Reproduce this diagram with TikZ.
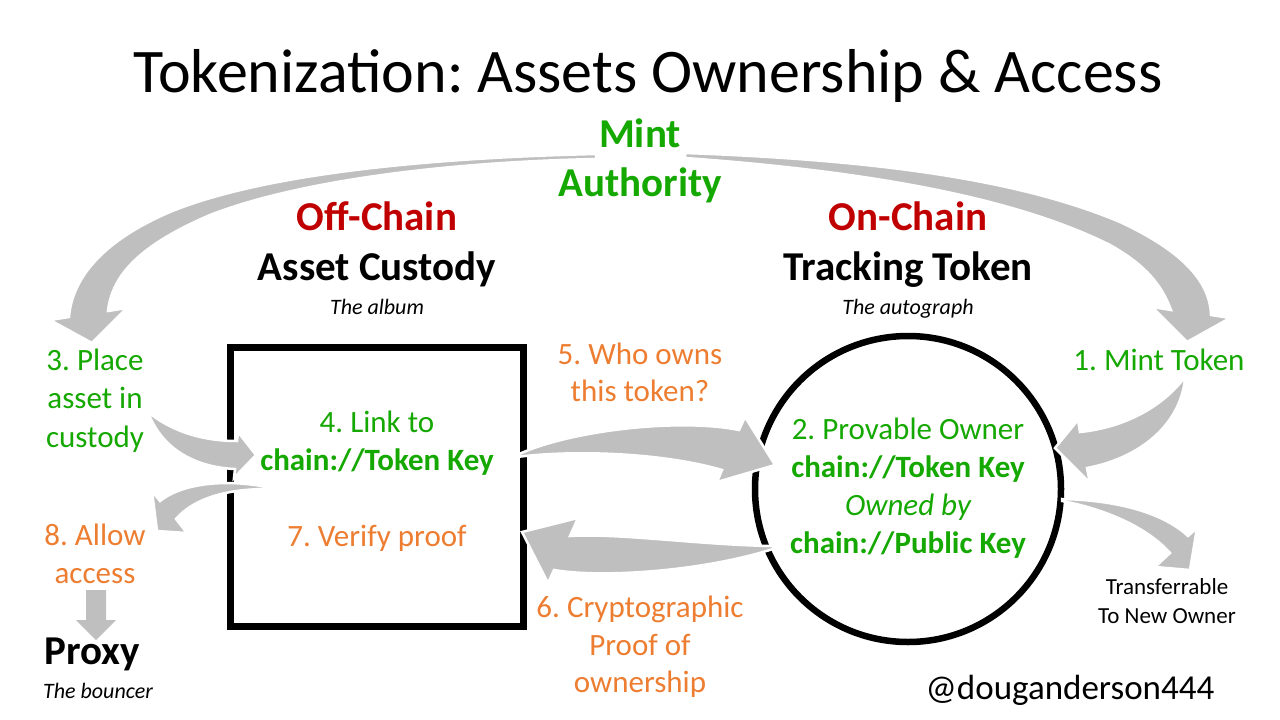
\documentclass[tikz,border=0pt]{standalone}
\usepackage{fontspec}
\setmainfont{Carlito}
\frenchspacing
\definecolor{tgreen}{RGB}{20,168,0}
\definecolor{tred}{RGB}{192,0,0}
\definecolor{torange}{RGB}{237,125,49}
\definecolor{agray}{RGB}{191,191,191}
\tikzset{
  txt/.style={inner sep=0pt, anchor=base},
  bigb/.style={txt, font=\fontsize{41}{41}\selectfont\bfseries},
  med/.style={txt, font=\fontsize{31}{31}\selectfont},
  medb/.style={txt, font=\fontsize{31}{31}\selectfont\bfseries},
  medi/.style={txt, font=\fontsize{31}{31}\selectfont\itshape},
  subi/.style={txt, font=\fontsize{22}{22}\selectfont\itshape},
  small/.style={txt, font=\fontsize{23}{23}\selectfont},
  garrow/.style={fill=agray, draw=white, line width=2.5pt, line join=miter},
}
\begin{document}
\begin{tikzpicture}[x=1pt,y=-1pt]
\useasboundingbox (0,0) rectangle (1280,720);
\fill[white] (0,0) rectangle (1280,720);

% title
\node[txt, font=\fontsize{62}{62}\selectfont] (title) at (648,92) {Tokenization: Assets Ownership \& Access};

% containers
\node[draw, line width=7pt, minimum width=293pt, minimum height=279pt, inner sep=0pt] (box) at (376.5,486.5) {};
\node[draw, circle, line width=6.5pt, minimum size=306pt, inner sep=0pt] (tok) at (908,489) {};

% big arrow: mint -> place asset
\path[garrow] (596,154) .. controls (420,158) and (260,175) .. (170,212)
  .. controls (100,242) and (72,280) .. (69,317) -- (50,320) -- (92,343) -- (127,308) -- (108,311)
  .. controls (112,275) and (140,245) .. (210,215)
  .. controls (300,180) and (450,162) .. (596,159) -- cycle;
% big arrow: mint -> mint token
\path[garrow] (685,153) .. controls (880,160) and (1020,180) .. (1120,222)
  .. controls (1180,250) and (1210,280) .. (1211,315) -- (1230,318) -- (1187,342) -- (1152,307) -- (1171,310)
  .. controls (1160,280) and (1140,262) .. (1110,245)
  .. controls (1020,200) and (880,172) .. (685,158) -- cycle;
% place asset -> box
\path[garrow] (148,412) .. controls (170,430) and (200,441) .. (237,441) -- (238,432) -- (256,455) -- (234,478) -- (235,469)
  .. controls (190,467) and (160,445) .. (148,412) -- cycle;
% box -> allow access
\path[garrow] (267,487) .. controls (220,478) and (180,485) .. (160,501) -- (152,491) -- (157,531) -- (187,533) -- (176,519)
  .. controls (195,497) and (230,489) .. (267,489) -- cycle;
% box -> circle (5)
\path[garrow] (517,455) .. controls (570,430) and (680,418) .. (739,430) -- (745,417) -- (775,465) -- (717,482) -- (722,470)
  .. controls (660,452) and (570,450) .. (517,457) -- cycle;
% circle -> box (6)
\path[garrow] (773,546) .. controls (700,545) and (620,533) .. (570,536) -- (578,518) -- (522,532) -- (548,583) -- (554,570)
  .. controls (600,578) and (700,572) .. (773,549) -- cycle;
% mint token -> circle
\path[garrow] (1185,377) .. controls (1160,410) and (1120,428) .. (1080,432) -- (1078,420) -- (1055,448) -- (1090,483) -- (1087,468)
  .. controls (1140,458) and (1180,425) .. (1185,379) -- cycle;
% circle -> transferrable
\path[garrow] (1062,499) .. controls (1110,500) and (1160,510) .. (1188,536) -- (1197,528) -- (1190,570) -- (1155,567) -- (1170,553)
  .. controls (1145,525) and (1100,508) .. (1062,501) -- cycle;
% allow access -> proxy
\path[fill=agray] (86,590) -- (106,590) -- (106,620) -- (116,620) -- (96,640) -- (76,620) -- (86,620) -- cycle;

% headings
\node[bigb, tgreen] (mint1) at (640,147) {Mint};
\node[bigb, tgreen] (mint2) at (640,196) {Authority};
\node[bigb, tred] (off) at (377,230) {Off-Chain};
\node[bigb] (cust) at (377,280) {Asset Custody};
\node[subi] (album) at (377,314) {The album};
\node[bigb, tred] (on) at (908,230) {On-Chain};
\node[bigb] (track) at (908,280) {Tracking Token};
\node[subi] (autog) at (908,314) {The autograph};

% left side
\node[med, tgreen] (p1) at (95,370) {3. Place};
\node[med, tgreen] (p2) at (95,408) {asset in};
\node[med, tgreen] (p3) at (95,447) {custody};
\node[med, torange] (a1) at (95,545) {8. Allow};
\node[med, torange] (a2) at (95,583) {access};
\node[bigb] (proxy) at (92,664) {Proxy};
\node[subi] (bouncer) at (98,698) {The bouncer};

% box content
\node[med, tgreen] (l1) at (377,432) {4. Link to};
\node[medb, tgreen] (l2) at (377,470) {chain://Token Key};
\node[med, torange] (vp) at (377,546) {7. Verify proof};

% middle labels
\node[med, torange] (w1) at (640,364) {5. Who owns};
\node[med, torange] (w2) at (640,401) {this token?};
\node[med, torange] (c1) at (640,617) {6. Cryptographic};
\node[med, torange] (c2) at (640,655) {Proof of};
\node[med, torange] (c3) at (640,692) {ownership};

% circle content
\node[med, tgreen] (o1) at (908,439) {2. Provable Owner};
\node[medb, tgreen] (o2) at (908,477) {chain://Token Key};
\node[medi, tgreen] (o3) at (908,515) {Owned by};
\node[medb, tgreen] (o4) at (908,553) {chain://Public Key};

% right side
\node[med, tgreen] (mt) at (1159,370) {1. Mint Token};
\node[small] (tr1) at (1167,594) {Transferrable};
\node[small] (tr2) at (1167,623) {To New Owner};
\node[txt, font=\fontsize{35}{35}\selectfont] (handle) at (1070,699) {@douganderson444};
\end{tikzpicture}
\end{document}
